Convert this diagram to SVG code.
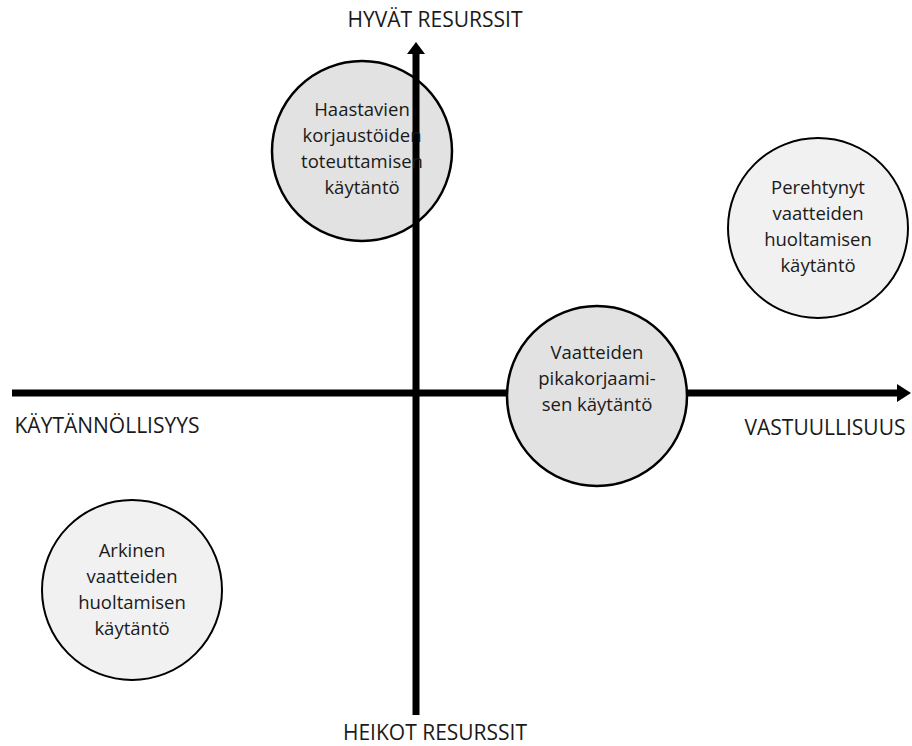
<svg xmlns="http://www.w3.org/2000/svg" width="912" height="746" viewBox="0 0 912 746">
<defs>
<style>
.lbl{font-family:"Open Sans","Liberation Sans",sans-serif;font-size:21px;fill:#1a1a1a;text-anchor:middle}
.ct{font-family:"Open Sans","Liberation Sans",sans-serif;font-size:18.5px;fill:#1a1a1a;text-anchor:middle}
.dark{fill:#e2e2e2;stroke:#000;stroke-width:2.5}
.light{fill:#f1f1f1;stroke:#000;stroke-width:2}
.axis{stroke:#000;stroke-width:7;fill:none}
</style>
</defs>
<rect width="912" height="746" fill="#fff"/>
<g id="node-haastavien">
<circle class="dark" cx="362" cy="151" r="90"/>
</g>
<g id="connectors">
<line class="axis" x1="12" y1="393" x2="898" y2="393"/>
<polygon points="911,393 897,384 897,402" fill="#000"/>
<line class="axis" x1="416" y1="715" x2="416" y2="54"/>
<polygon points="416,42 407,54 425,54" fill="#000"/>
</g>
<g id="node-haastavien-text">
<text class="ct" x="362" y="116">Haastavien</text>
<text class="ct" x="362" y="142">korjaustöiden</text>
<text class="ct" x="362" y="168">toteuttamisen</text>
<text class="ct" x="362" y="194">käytäntö</text>
</g>
<g id="node-perehtynyt">
<circle class="light" cx="818" cy="228" r="90"/>
<text class="ct" x="818" y="194">Perehtynyt</text>
<text class="ct" x="818" y="220">vaatteiden</text>
<text class="ct" x="818" y="246">huoltamisen</text>
<text class="ct" x="818" y="272">käytäntö</text>
</g>
<g id="node-pikakorjaaminen">
<circle class="dark" cx="597" cy="396" r="90"/>
<text class="ct" x="597" y="359">Vaatteiden</text>
<text class="ct" x="597" y="385">pikakorjaami-</text>
<text class="ct" x="597" y="411">sen käytäntö</text>
</g>
<g id="node-arkinen">
<circle class="light" cx="132" cy="590" r="90"/>
<text class="ct" x="132" y="557">Arkinen</text>
<text class="ct" x="132" y="583">vaatteiden</text>
<text class="ct" x="132" y="609">huoltamisen</text>
<text class="ct" x="132" y="635">käytäntö</text>
</g>
<g id="labels">
<text class="lbl" x="435" y="27">HYVÄT RESURSSIT</text>
<text class="lbl" x="435" y="740">HEIKOT RESURSSIT</text>
<text class="lbl" x="107" y="433">KÄYTÄNNÖLLISYYS</text>
<text class="lbl" x="825" y="435">VASTUULLISUUS</text>
</g>
</svg>
